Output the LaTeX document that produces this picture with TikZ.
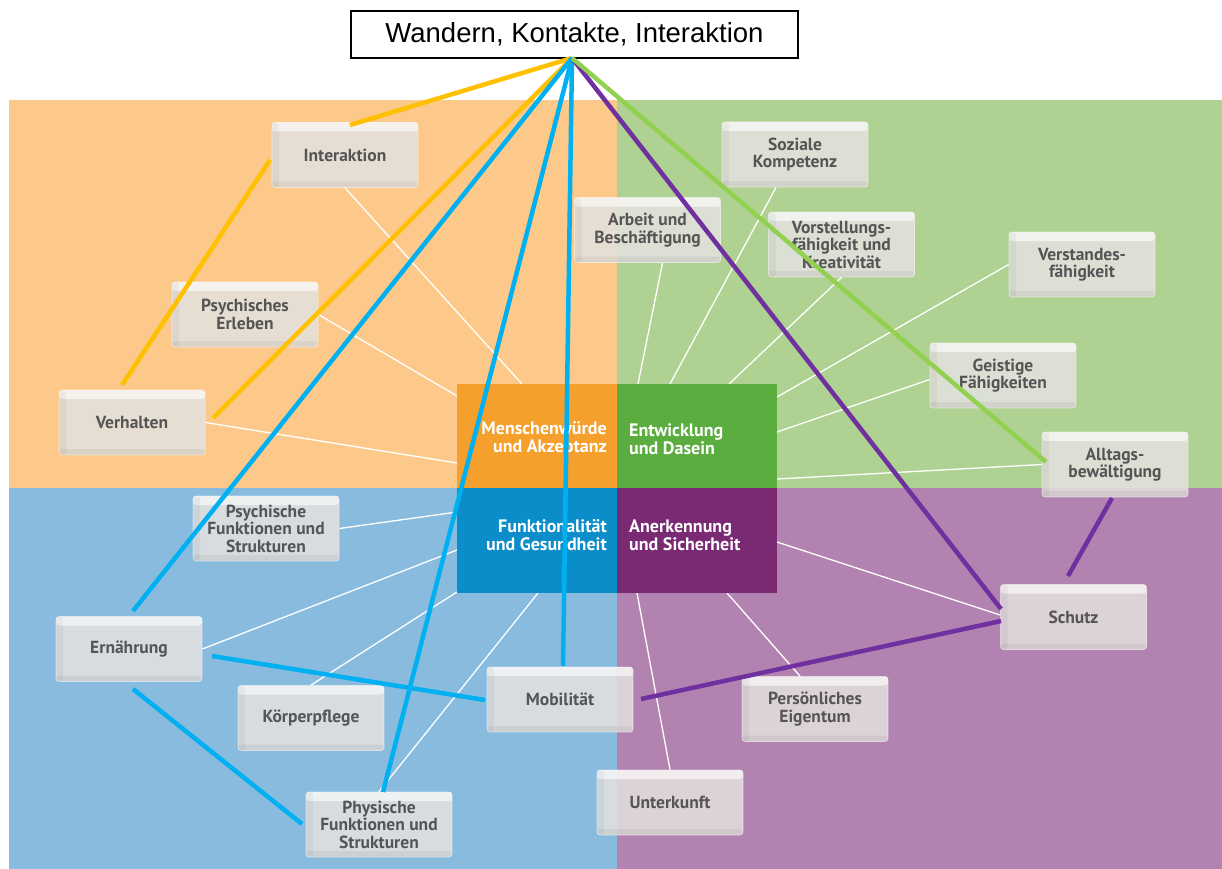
\documentclass[tikz,border=0pt]{standalone}
\usepackage{fontspec}
\newfontfamily\ptsans{PT Sans}
\newfontfamily\arialf{Liberation Sans}
\definecolor{bgO}{HTML}{FDC98A}
\definecolor{bgG}{HTML}{AFD292}
\definecolor{bgB}{HTML}{89BBDF}
\definecolor{bgP}{HTML}{B283B0}
\definecolor{cO}{HTML}{F5A02C}
\definecolor{cG}{HTML}{5CAD3F}
\definecolor{cB}{HTML}{0A8DC8}
\definecolor{cP}{HTML}{792A73}
\definecolor{lY}{HTML}{FFC000}
\definecolor{lB}{HTML}{00B0F0}
\definecolor{lP}{HTML}{7030A0}
\definecolor{lG}{HTML}{92D050}
\definecolor{txtgray}{HTML}{555555}
\definecolor{boxgray}{HTML}{E4E2E0}
\tikzset{
  bx/.style={rounded corners=3pt, minimum width=146pt, minimum height=65pt,
    fill=boxgray, fill opacity=0.85, text opacity=1, draw=white, draw opacity=0.5,
    line width=0.8pt, align=center, text=txtgray, inner sep=2pt,
    font=\ptsans\bfseries\fontsize{17.5}{17.5}\selectfont,
    path picture={
      \fill[white, opacity=0.6] (path picture bounding box.north west) rectangle ([yshift=-9pt]path picture bounding box.north east);
      \fill[black, opacity=0.04] (path picture bounding box.north west) rectangle ([xshift=7pt]path picture bounding box.south west);
      \fill[black, opacity=0.05] (path picture bounding box.south west) rectangle ([yshift=6pt]path picture bounding box.south east);
    }},
  quad/.style={minimum width=160pt, minimum height=104.5pt, inner sep=0pt, anchor=north west},
  ctext/.style={text=white, font=\ptsans\bfseries\fontsize{18}{18}\selectfont, inner sep=0pt},
  wline/.style={white, line width=1.3pt},
  cline/.style={line width=4.5pt},
}
\begin{document}
\begin{tikzpicture}[x=1pt,y=-1pt]
\useasboundingbox (0,0) rectangle (1222,869);
% backgrounds
\fill[bgO] (9,100) rectangle (617,488);
\fill[bgG] (617,100) rectangle (1222,488);
\fill[bgB] (9,488) rectangle (617,869);
\fill[bgP] (617,488) rectangle (1222,869);

% title
\node[draw=black, line width=1.3pt, fill=white, minimum width=447pt, minimum height=47pt,
  font=\arialf\fontsize{27.5}{30}\selectfont, inner sep=0pt] (title) at (574.5,34.5) {Wandern, Kontakte, Interaktion};

% boxes
\node[bx] (inter) at (345,155) {Interaktion};
\node[bx] (pe) at (245,314.5) {Psychisches\\Erleben};
\node[bx] (verh) at (132,422.5) {Verhalten};
\node[bx] (arbeit) at (647.5,230) {Arbeit und\\Beschäftigung};
\node[bx] (soz) at (795,154.5) {Soziale\\Kompetenz};
\node[bx] (vor) at (841.5,244.5) {Vorstellungs-\\fähigkeit und\\Kreativität};
\node[bx] (vers) at (1082,264.5) {Verstandes-\\fähigkeit};
\node[bx] (gei) at (1003,375.5) {Geistige\\Fähigkeiten};
\node[bx] (allt) at (1115,464.5) {Alltags-\\bewältigung};
\node[bx] (schutz) at (1073.5,617) {Schutz};
\node[bx] (pers) at (815,709) {Persönliches\\Eigentum};
\node[bx] (unter) at (670,802.5) {Unterkunft};
\node[bx] (mob) at (560,699.5) {Mobilität};
\node[bx] (koer) at (311,718) {Körperpflege};
\node[bx] (phys) at (379,824.5) {Physische\\Funktionen und\\Strukturen};
\node[bx] (ern) at (129,649) {Ernährung};
\node[bx] (psf) at (266,528.5) {Psychische\\Funktionen und\\Strukturen};

% centre end points of white lines
\coordinate (cInt) at (522,384);
\coordinate (cPe) at (457,396);
\coordinate (cVerh) at (457,463);
\coordinate (cArb) at (638,384);
\coordinate (cSoz) at (670,384);
\coordinate (cVor) at (729,384);
\coordinate (cVers) at (777,397);
\coordinate (cGei) at (777,432);
\coordinate (cAllt) at (777,479);
\coordinate (cSch) at (777,542);
\coordinate (cPers) at (727,593);
\coordinate (cUnt) at (637,593);
\coordinate (cPsf) at (457,512);
\coordinate (cErn) at (457,550);
\coordinate (cKoer) at (457,592);
\coordinate (cPhys) at (538,593);

% white lines
\draw[wline] (inter.south) -- (cInt);
\draw[wline] (pe.east) -- (cPe);
\draw[wline] (verh.east) -- (cVerh);
\draw[wline] ([xshift=15pt]arbeit.south) -- (cArb);
\draw[wline] ([xshift=-19pt]soz.south) -- (cSoz);
\draw[wline] (vor.south) -- (cVor);
\draw[wline] (vers.west) -- (cVers);
\draw[wline] ([yshift=-4pt]gei.west) -- (cGei);
\draw[wline] (allt.west) -- (cAllt);
\draw[wline] ([yshift=2pt]schutz.west) -- (cSch);
\draw[wline] ([xshift=-15pt]pers.north) -- (cPers);
\draw[wline] (unter.north) -- (cUnt);
\draw[wline] (psf.east) -- (cPsf);
\draw[wline] (ern.east) -- (cErn);
\draw[wline] (koer.north) -- (cKoer);
\draw[wline] (phys.north) -- (cPhys);

% centre quadrants
\node[quad, fill=cO] (qO) at (457,384) {};
\node[quad, fill=cG] (qG) at (617,384) {};
\node[quad, fill=cB] (qB) at (457,488) {};
\node[quad, fill=cP] (qP) at (617,488) {};
\node[ctext, anchor=east, align=right] (tO) at (607,439) {Menschenwürde\\und Akzeptanz};
\node[ctext, anchor=west, align=left] (tG) at (629,439) {Entwicklung\\und Dasein};
\node[ctext, anchor=east, align=right] (tB) at (607,535) {Funktionalität\\und Gesundheit};
\node[ctext, anchor=west, align=left] (tP) at (629,535) {Anerkennung\\und Sicherheit};

% free ends of coloured lines
\coordinate (top) at (572,58);
\coordinate (y1) at (350,125);
\coordinate (y2a) at (270,160);
\coordinate (y2b) at (122,385);
\coordinate (y3) at (213,418);
\coordinate (b1) at (133,611);
\coordinate (b2) at (383,792);
\coordinate (b3) at (563,666);
\coordinate (b4a) at (212,656);
\coordinate (b4b) at (485,700);
\coordinate (b5a) at (133,689);
\coordinate (b5b) at (302,824);
\coordinate (p1) at (1001,609);
\coordinate (p2a) at (1112,498);
\coordinate (p2b) at (1068,576);
\coordinate (p3a) at (1001,621);
\coordinate (p3b) at (641,699);
\coordinate (g1) at (1046,462);

% coloured lines
\draw[cline, lY] (top) -- (y1);
\draw[cline, lY] (y2a) -- (y2b);
\draw[cline, lY] (top) -- (y3);
\draw[cline, lB] (top) -- (b1);
\draw[cline, lB] (top) -- (b2);
\draw[cline, lB] (top) -- (b3);
\draw[cline, lB] (b4a) -- (b4b);
\draw[cline, lB] (b5a) -- (b5b);
\draw[cline, lP] (top) -- (p1);
\draw[cline, lP] (p2a) -- (p2b);
\draw[cline, lP] (p3a) -- (p3b);
\draw[cline, lG] (top) -- (g1);
\end{tikzpicture}
\end{document}
